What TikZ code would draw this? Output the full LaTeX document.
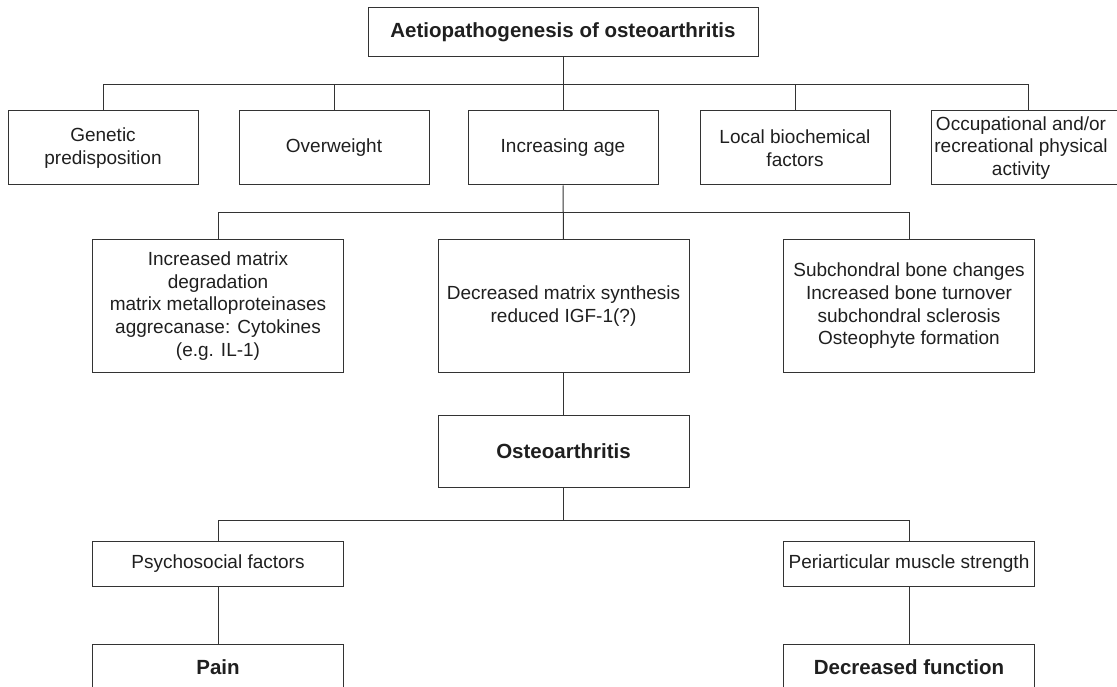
\documentclass[tikz,border=0pt]{standalone}
\usepackage{fontspec}
\setmainfont{Liberation Sans}
\begin{document}
\begin{tikzpicture}[x=1pt,y=-1pt,
  box/.style={draw=black!80, line width=1pt, rectangle, inner sep=2pt, align=center,
    text=black!88, font=\fontsize{19}{22.7}\selectfont},
  bbox/.style={box, font=\fontsize{20.5}{24}\selectfont\bfseries},
  txt/.style={inner sep=0pt, align=center, text=black!88, font=\fontsize{19}{22.7}\selectfont},
  conn/.style={draw=black!80, line width=1pt}]
\useasboundingbox (0,0) rectangle (1117,687);
\clip (0,0) rectangle (1117,687);
% top
\node[bbox, minimum width=390, minimum height=49] (top) at (563,32.5) {Aetiopathogenesis of osteoarthritis};
% row 1
\node[box, minimum width=190, minimum height=74] (b1) at (103,148) {Genetic\\predisposition};
\node[box, minimum width=190, minimum height=74] (b2) at (334,148) {Overweight};
\node[box, minimum width=190, minimum height=74] (b3) at (563,148) {Increasing age};
\node[box, minimum width=190, minimum height=74] (b4) at (795,148) {Local biochemical\\factors};
\node[box, minimum width=194, minimum height=74] (b5) at (1028,148) {};
\node[txt] (b5t) at ([xshift=-7pt]b5.center) {Occupational and/or\\recreational physical\\activity};
% row 2
\node[box, minimum width=251, minimum height=132] (l2) at (218,306) {Increased matrix\\degradation\\matrix metalloproteinases\\aggrecanase: Cytokines\\(e.g. IL-1)};
\node[box, minimum width=251, minimum height=132] (m2) at (563.5,306) {Decreased matrix synthesis\\reduced IGF-1(?)};
\node[box, minimum width=251, minimum height=132] (r2) at (909,306) {Subchondral bone changes\\Increased bone turnover\\subchondral sclerosis\\Osteophyte formation};
% osteoarthritis
\node[bbox, minimum width=251, minimum height=72] (oa) at (563.5,451) {Osteoarthritis};
% row 4
\node[box, minimum width=251, minimum height=45] (ps) at (218,563.5) {Psychosocial factors};
\node[box, minimum width=251, minimum height=45] (pm) at (909,563.5) {Periarticular muscle strength};
% row 5
\node[bbox, minimum width=251, minimum height=46] (pain) at (218,667) {Pain};
\node[bbox, minimum width=251, minimum height=46] (dec) at (909,667) {Decreased function};
% bus coordinates
\coordinate (bus1) at (0,85);
\coordinate (bus2) at (0,213);
\coordinate (bus3) at (0,520);
% connectors
\draw[conn] (top.south) -- (b3.north);
\draw[conn] (b1.north) |- (b5.north |- bus1) -- (b5.north);
\draw[conn] (b2.north) -- (b2.north |- bus1);
\draw[conn] (b4.north) -- (b4.north |- bus1);
\draw[conn] (b3.south) -- (m2.north);
\draw[conn] (l2.north) |- (r2.north |- bus2) -- (r2.north);
\draw[conn] (m2.south) -- (oa.north);
\draw[conn] (oa.south) -- (oa.south |- bus3);
\draw[conn] (ps.north) |- (pm.north |- bus3) -- (pm.north);
\draw[conn] (ps.south) -- (pain.north);
\draw[conn] (pm.south) -- (dec.north);
\end{tikzpicture}
\end{document}
